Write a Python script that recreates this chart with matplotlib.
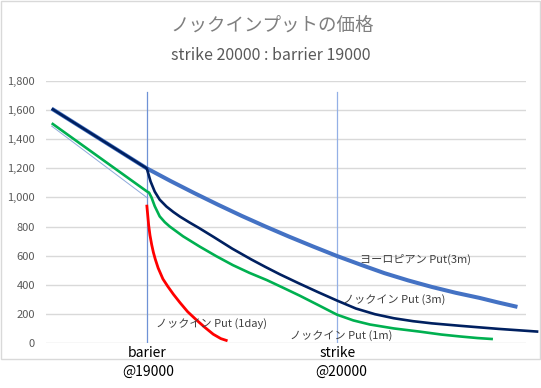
import matplotlib
matplotlib.use('Agg')
from matplotlib import pyplot
from matplotlib.patches import Rectangle

pyplot.rcParams['font.family'] = ['Noto Sans CJK JP', 'DejaVu Sans']

# European put (3m)
euro_x = [18500, 19000, 19125, 19250, 19375, 19500, 19625, 19750, 19875, 20000,
          20125, 20250, 20375, 20500, 20625, 20750, 20850, 20950]
euro_y = [1610, 1200, 1113, 1030, 950, 873, 800, 730, 663, 598,
          538, 480, 430, 385, 345, 310, 278, 248]

# knock-in put (3m)
ki3m_x = [18500, 19000, 19020, 19042, 19068, 19104, 19140, 19175, 19225, 19275,
          19350, 19450, 19550, 19625, 19700, 19800, 19900, 20000, 20100, 20200,
          20300, 20400, 20500, 20650, 20850, 21060]
ki3m_y = [1610, 1200, 1110, 1040, 985, 937, 900, 868, 828, 790,
          730, 648, 574, 522, 472, 410, 350, 292, 237, 198,
          170, 150, 135, 118, 97, 78]

# knock-in put (1m)
ki1m_x = [18500, 19000, 19012, 19025, 19042, 19068, 19095, 19121, 19191, 19279,
          19365, 19453, 19540, 19632, 19720, 19805, 19900, 20000, 20087, 20174,
          20300, 20437, 20550, 20647, 20740, 20821]
ki1m_y = [1510, 1042, 1033, 1000, 940, 870, 830, 800, 733, 662,
          597, 535, 482, 432, 378, 325, 262, 195, 155, 127,
          100, 78, 58, 45, 34, 27]

# knock-in put (1day)
ki1d_x = [19000, 19005, 19010, 19017, 19026, 19035, 19045, 19060, 19085, 19110,
          19140, 19175, 19215, 19260, 19305, 19350, 19390, 19425]
ki1d_y = [950, 880, 810, 740, 675, 622, 575, 515, 440, 390,
          335, 277, 215, 160, 108, 60, 30, 15]

# 1day before barrier
pre_x = [18500, 19000]
pre_y = [1490, 1000]

barrier = 19000
strike = 20000
yticks = [0, 200, 400, 600, 800, 1000, 1200, 1400, 1600, 1800]

fig = pyplot.figure(figsize=(5.41, 3.88), dpi=100)
fig.patches.append(Rectangle((1 / 541, 1 - 359 / 388), 539 / 541, 358 / 388,
                             transform=fig.transFigure, fill=False,
                             edgecolor='#d9d9d9', linewidth=1))

ax = fig.add_axes([46 / 541, 1 - 343 / 388, 480 / 541, 262 / 388])
ax.set_xlim(18470, 20995)
ax.set_ylim(0, 1800)
ax.set_yticks(yticks)
ax.set_yticklabels(['{:,}'.format(v) for v in yticks], fontsize=8, color='#595959')
ax.set_xticks([])
ax.tick_params(axis='y', length=0, pad=8)
for s in ax.spines.values():
    s.set_visible(False)
ax.grid(axis='y', color='#d9d9d9', linewidth=1)
ax.set_axisbelow(True)

# barrier / strike lines
ax.plot([barrier, barrier], [0, 1725], color='#6f92d6', linewidth=0.9)
ax.plot([strike, strike], [0, 1725], color='#94b0e6', linewidth=0.9)

line = dict(solid_joinstyle='round', solid_capstyle='butt')
ax.plot(euro_x, euro_y, color='#4472c4', linewidth=2.9, **line)
ax.plot(ki3m_x, ki3m_y, color='#002060', linewidth=1.9, clip_on=False, **line)
ax.plot(ki1m_x, ki1m_y, color='#00b050', linewidth=1.9, **line)
ax.plot(ki1d_x, ki1d_y, color='#ff0000', linewidth=2, **line)
ax.plot(pre_x, pre_y, color='#8eaadb', linewidth=0.7)

lab = dict(fontsize=8, color='#404040', va='center', ha='left')
ax.text(20121, 577, 'ヨーロピアン Put(3m)', **lab)
ax.text(20032, 302, 'ノックイン Put (3m)', **lab)
ax.text(19753, 52, 'ノックイン Put (1m)', **lab)
ax.text(19047, 135, 'ノックイン Put (1day)', **lab)

fig.text(272 / 541, 1 - 26 / 388, 'ノックインプットの価格', ha='center', va='center',
         fontsize=13.3, color='#7f7f7f')
fig.text(271 / 541, 1 - 55 / 388, 'strike 20000 : barrier 19000', ha='center', va='center',
         fontsize=11.5, color='#595959')

fig.text(147 / 541, 1 - 353 / 388, 'barier', ha='center', va='center', fontsize=10)
fig.text(148 / 541, 1 - 372 / 388, '@19000', ha='center', va='center', fontsize=10)
fig.text(338 / 541, 1 - 353 / 388, 'strike', ha='center', va='center', fontsize=10)
fig.text(341 / 541, 1 - 372 / 388, '@20000', ha='center', va='center', fontsize=10)

pyplot.savefig('out.png', dpi=100)
